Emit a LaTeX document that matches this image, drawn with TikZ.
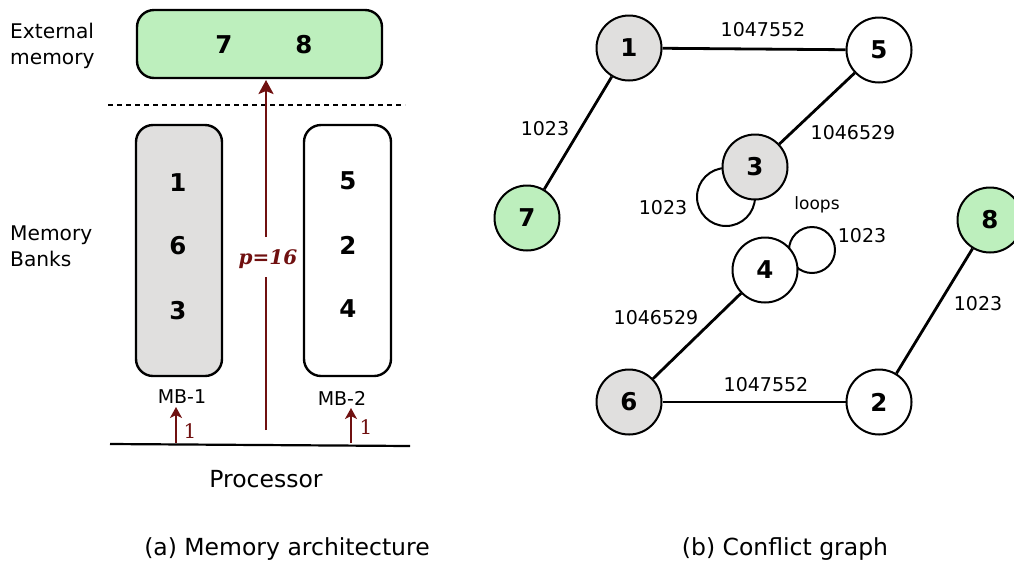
\documentclass[tikz,border=0pt]{standalone}
\usepackage{fontspec}
\setmainfont{DejaVu Sans}
\newfontfamily\serifred{DejaVu Serif}
\usetikzlibrary{arrows.meta,calc}
\pgfdeclarelayer{background}
\pgfsetlayers{background,main}
\definecolor{gfill}{HTML}{E0DFDE}
\definecolor{grn}{HTML}{BDEFBD}
\definecolor{dred}{RGB}{112,16,16}
\tikzset{
  gnode/.style={circle,draw,line width=2pt,minimum size=65pt,inner sep=0pt,font=\fontsize{24.5}{24.5}\selectfont\bfseries},
  edge/.style={line width=2.8pt},
  elabel/.style={font=\fontsize{19}{19}\selectfont,inner sep=0pt},
  bank/.style={draw,line width=2.4pt,rounded corners=17pt},
  bnum/.style={font=\fontsize{24.5}{24.5}\selectfont\bfseries,inner sep=0pt},
  side/.style={font=\fontsize{20.2}{26}\selectfont,align=left,anchor=west,inner sep=0pt},
  redarrow/.style={draw=dred,line width=2.5pt,-{Stealth[length=14pt,width=15pt,inset=3pt]}},
  smallarrow/.style={draw=dred,line width=2.5pt,-{Stealth[length=11pt,width=12pt,inset=3pt]}},
  onelabel/.style={text=dred,font=\serifred\fontsize{20}{20}\selectfont,inner sep=0pt},
}
\begin{document}
\begin{tikzpicture}[x=1pt,y=-1pt]
\useasboundingbox (0,0) rectangle (1014,566);
% ---------- (a) memory architecture ----------
\node[side] (ext) at (10,46) {External\\memory};
\node[side] (mb) at (10,246) {Memory\\Banks};
\draw[bank,fill=grn] (137,10) rectangle (382,78);
\coordinate (boxbot) at (266,80);
\node[bnum] (e7) at (224,45) {7};
\node[bnum] (e8) at (304,45) {8};
\coordinate (dl) at (108,105);
\coordinate (dr) at (405,105);
\draw[line width=2pt,dash pattern=on 5pt off 4pt] (dl) -- (dr);
\draw[bank,fill=gfill] (136,125) rectangle (222,376);
\draw[bank] (304,125) rectangle (391,376);
\node[bnum] (b1) at (178,183) {1};
\node[bnum] (b6) at (178,246) {6};
\node[bnum] (b3) at (178,311) {3};
\node[bnum] (b5) at (348,181) {5};
\node[bnum] (b2) at (348,245) {2};
\node[bnum] (b4) at (348,309) {4};
\node[font=\fontsize{19}{19}\selectfont,inner sep=0pt] (mb1) at (182,397) {MB-1};
\node[font=\fontsize{19}{19}\selectfont,inner sep=0pt] (mb2) at (342,398) {MB-2};
\node[text=dred,font=\serifred\fontsize{20}{20}\selectfont\bfseries\itshape,inner sep=0pt] (p16) at (268,259) {p=16};
\coordinate (ptop) at (266,237);
\coordinate (pbot) at (266,277);
\coordinate (pstart) at (266,430);
\draw[draw=dred,line width=2.5pt] (pstart) -- (pbot);
\draw[redarrow] (ptop) -- (boxbot);
\coordinate (procl) at (110,444);
\coordinate (procr) at (410,446);
\draw[line width=2.2pt] (procl) -- (procr);
\coordinate (a1s) at (176,443);
\coordinate (a1e) at (176,407);
\coordinate (a2s) at (351,443);
\coordinate (a2e) at (351,408);
\draw[smallarrow] (a1s) -- (a1e);
\draw[smallarrow] (a2s) -- (a2e);
\node[onelabel] (one1) at (190,431) {1};
\node[onelabel] (one2) at (366,427) {1};
\node[font=\fontsize{23.5}{23.5}\selectfont,inner sep=0pt] (proc) at (266,479) {Processor};
\node[font=\fontsize{23.5}{23.5}\selectfont,inner sep=0pt] (capa) at (287,549) {(a) Memory architecture};
% ---------- (b) conflict graph ----------
\node[gnode,fill=gfill] (n1) at (629,48) {1};
\node[gnode,fill=white] (n5) at (879,50) {5};
\node[gnode,fill=grn] (n7) at (527,218) {7};
\node[gnode,fill=gfill] (n3) at (755,167) {3};
\node[gnode,fill=grn] (n8) at (990,220) {8};
\node[gnode,fill=white] (n4) at (765,270) {4};
\node[gnode,fill=gfill] (n6) at (629,402) {6};
\node[gnode,fill=white] (n2) at (879,402) {2};
\begin{pgfonlayer}{background}
\draw[edge] (n1) -- (n5);
\draw[edge] (n1) -- (n7);
\draw[edge] (n5) -- (n3);
\draw[edge] (n4) -- (n6);
\draw[edge] (n6) -- (n2);
\draw[edge] (n8) -- (n2);
\draw[line width=2pt,fill=white] ($(n3)+(-29,30)$) circle (29);
\draw[line width=2pt,fill=white] ($(n4)+(47,-20)$) circle (23);
\end{pgfonlayer}
\node[elabel] (l15) at (763,30) {1047552};
\node[elabel] (l17) at (545,129) {1023};
\node[elabel] (l53) at (853,133) {1046529};
\node[elabel] (l82) at (978,304) {1023};
\node[elabel] (l46) at (656,318) {1046529};
\node[elabel] (l62) at (766,385) {1047552};
\node[elabel] (l33) at (663,208) {1023};
\node[elabel] (l44) at (862,236) {1023};
\node[font=\fontsize{17}{17}\selectfont,inner sep=0pt] (loops) at (817,205) {loops};
\node[font=\fontsize{23.5}{23.5}\selectfont,inner sep=0pt] (capb) at (785,549) {(b) Conflict graph};
\end{tikzpicture}
\end{document}
